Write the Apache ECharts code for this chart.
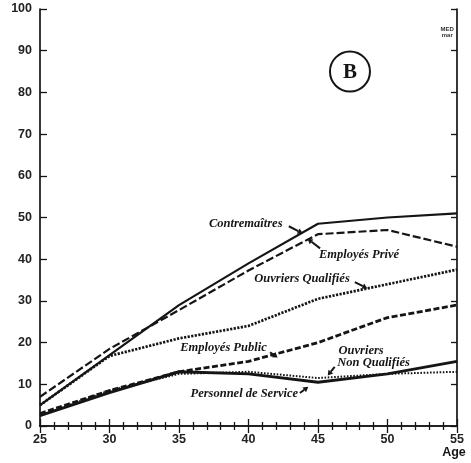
<!DOCTYPE html>
<html>
<head>
<meta charset="utf-8">
<script src="https://cdn.jsdelivr.net/npm/echarts@6/dist/echarts.min.js"></script>
<style>
  html, body { margin: 0; padding: 0; background: #fff; }
  #chart { width: 471px; height: 463px; }
</style>
</head>
<body>
<div id="chart"></div>
<script>
// Age groups on the horizontal axis
const ages = [25, 30, 35, 40, 45, 50, 55];

// Percentages by occupational group
const contremaitres        = [5, 17, 29, 39, 48.5, 50, 51];
const employesPrive        = [7, 18.5, 27.8, 37.3, 46, 47, 43];
const ouvriersQualifies    = [5, 16.8, 21, 24, 30.5, 34, 37.5];
const employesPublic       = [3, 8.5, 13, 15.5, 20, 26, 29];
const ouvriersNonQualifies = [2.5, 8.5, 12.5, 13, 11.5, 12.5, 13];
const personnelService     = [2.5, 8, 13, 12.5, 10.5, 12.5, 15.5];

// Tick labels
const xTickLabels = ['25', '30', '35', '40', '45', '50', '55'];
const yTickLabels = ['0', '10', '20', '30', '40', '50', '60', '70', '80', '90', '100'];

const INK = '#151515';
const pairs = vals => ages.map((a, i) => [a, vals[i]]);

const chart = echarts.init(document.getElementById('chart'), null, { renderer: 'canvas' });

const axisLine = { show: true, lineStyle: { color: INK, width: 1.7 } };
const tickStyle = { color: INK, width: 1.3 };
const tickFont = { fontSize: 12.5, fontWeight: 'bold', color: '#222', fontFamily: 'Liberation Sans' };

function lineSeries(name, vals, width, type) {
  return {
    name, type: 'line', xAxisIndex: 0, yAxisIndex: 0,
    data: pairs(vals), symbol: 'none', silent: true, animation: false,
    lineStyle: { color: INK, width, type, cap: 'butt', join: 'round' },
    z: 3
  };
}

chart.setOption({
  backgroundColor: '#fff',
  animation: false,
  grid: { left: 40, right: 14, top: 9, bottom: 37, containLabel: false },
  xAxis: [
    {
      type: 'value', position: 'bottom', min: 25, max: 55, interval: 5,
      axisLine, splitLine: { show: false },
      axisTick: { show: true, inside: true, length: 7, lineStyle: tickStyle },
      minorTick: { show: true, splitNumber: 5, length: 4, lineStyle: tickStyle },
      axisLabel: Object.assign({
        margin: 7,
        formatter: v => xTickLabels[ages.indexOf(v)] ?? ''
      }, tickFont)
    },
    {
      type: 'value', position: 'top', min: 25, max: 55, interval: 5,
      axisLine, splitLine: { show: false },
      axisTick: { show: true, inside: true, length: 7, lineStyle: tickStyle },
      minorTick: { show: true, splitNumber: 5, length: 4, lineStyle: tickStyle },
      axisLabel: { show: false }
    }
  ],
  yAxis: [
    {
      type: 'value', position: 'left', min: 0, max: 100, interval: 10,
      axisLine, splitLine: { show: false },
      axisTick: { show: true, inside: true, length: 7, lineStyle: tickStyle },
      axisLabel: Object.assign({
        margin: 8,
        formatter: v => yTickLabels[Math.round(v / 10)] ?? ''
      }, tickFont)
    },
    {
      type: 'value', position: 'right', min: 0, max: 100, interval: 10,
      axisLine, splitLine: { show: false },
      axisTick: { show: true, inside: true, length: 6, lineStyle: tickStyle },
      axisLabel: { show: false }
    }
  ],
  series: [
    lineSeries('Contremaîtres', contremaitres, 2.2, 'solid'),
    lineSeries('Employés Privé', employesPrive, 2.2, [8, 3]),
    lineSeries('Ouvriers Qualifiés', ouvriersQualifies, 2.7, [2.2, 1.4]),
    lineSeries('Employés Public', employesPublic, 2.8, [6, 2.5]),
    lineSeries('Ouvriers Non Qualifiés', ouvriersNonQualifies, 2, [1.6, 1.6]),
    lineSeries('Personnel de Service', personnelService, 3, 'solid')
  ]
});

// Annotations placed in data coordinates (age, %)
const px = (a, v) => chart.convertToPixel({ xAxisIndex: 0, yAxisIndex: 0 }, [a, v]);

const seriesLabels = [
  { text: 'Contremaîtres',        at: [39.8, 48.4] },
  { text: 'Employés Privé',       at: [47.95, 41.0] },
  { text: 'Ouvriers Qualifiés',   at: [43.85, 35.2] },
  { text: 'Employés Public',      at: [38.2, 18.7] },
  { text: 'Ouvriers',             at: [48.1, 18.0] },
  { text: 'Non Qualifiés',        at: [49.0, 15.1] },
  { text: 'Personnel de Service', at: [39.7, 7.7] }
];

const pointers = [
  { from: [42.9, 47.9], to: [43.9, 46.2] },
  { from: [45.15, 42.6], to: [44.25, 44.9] },
  { from: [47.65, 34.5], to: [48.55, 33.0] },
  { from: [41.55, 17.7], to: [42.1, 16.4] },
  { from: [46.2, 14.2], to: [45.7, 12.1] },
  { from: [43.7, 7.9], to: [44.3, 9.4] }
];

const graphics = [];

seriesLabels.forEach(l => {
  const [x, y] = px(l.at[0], l.at[1]);
  graphics.push({
    type: 'text', x, y, z: 10, silent: true,
    style: {
      text: l.text, fill: INK, align: 'center', verticalAlign: 'middle',
      font: 'italic bold 12.5px "Liberation Serif"'
    }
  });
});

pointers.forEach(p => {
  const [x1, y1] = px(p.from[0], p.from[1]);
  const [x2, y2] = px(p.to[0], p.to[1]);
  const ang = Math.atan2(y2 - y1, x2 - x1);
  const h = 5, w = 3;
  const hx = x2 - h * Math.cos(ang), hy = y2 - h * Math.sin(ang);
  graphics.push({
    type: 'line', z: 10, silent: true,
    shape: { x1, y1, x2: hx, y2: hy },
    style: { stroke: INK, lineWidth: 2 }
  });
  graphics.push({
    type: 'polygon', z: 10, silent: true,
    shape: {
      points: [
        [x2, y2],
        [hx + w * Math.sin(ang), hy - w * Math.cos(ang)],
        [hx - w * Math.sin(ang), hy + w * Math.cos(ang)]
      ]
    },
    style: { fill: INK }
  });
});

// Panel badge "B"
const [bx, by] = px(47.3, 85);
graphics.push({
  type: 'circle', z: 10, silent: true,
  shape: { cx: bx, cy: by, r: 20 },
  style: { fill: 'none', stroke: INK, lineWidth: 2 }
});
graphics.push({
  type: 'text', x: bx, y: by + 1, z: 10, silent: true,
  style: {
    text: 'B', fill: INK, align: 'center', verticalAlign: 'middle',
    font: 'bold 21px "Liberation Serif"'
  }
});

// Small mark in the top-right corner
const [mx, my] = px(54.3, 94.3);
graphics.push({
  type: 'text', x: mx, y: my, z: 10, silent: true,
  style: {
    text: 'MED\nmar', fill: '#333', align: 'center', verticalAlign: 'middle',
    font: 'bold 6px "Liberation Sans"', lineHeight: 6
  }
});

// Axis title under the last age tick
const [ax, ay] = px(55, 0);
graphics.push({
  type: 'text', x: ax - 3, y: ay + 27, z: 10, silent: true,
  style: {
    text: 'Age', fill: INK, align: 'center', verticalAlign: 'middle',
    font: 'bold 12.5px "Liberation Sans"'
  }
});

chart.setOption({ graphic: graphics });
</script>
</body>
</html>
